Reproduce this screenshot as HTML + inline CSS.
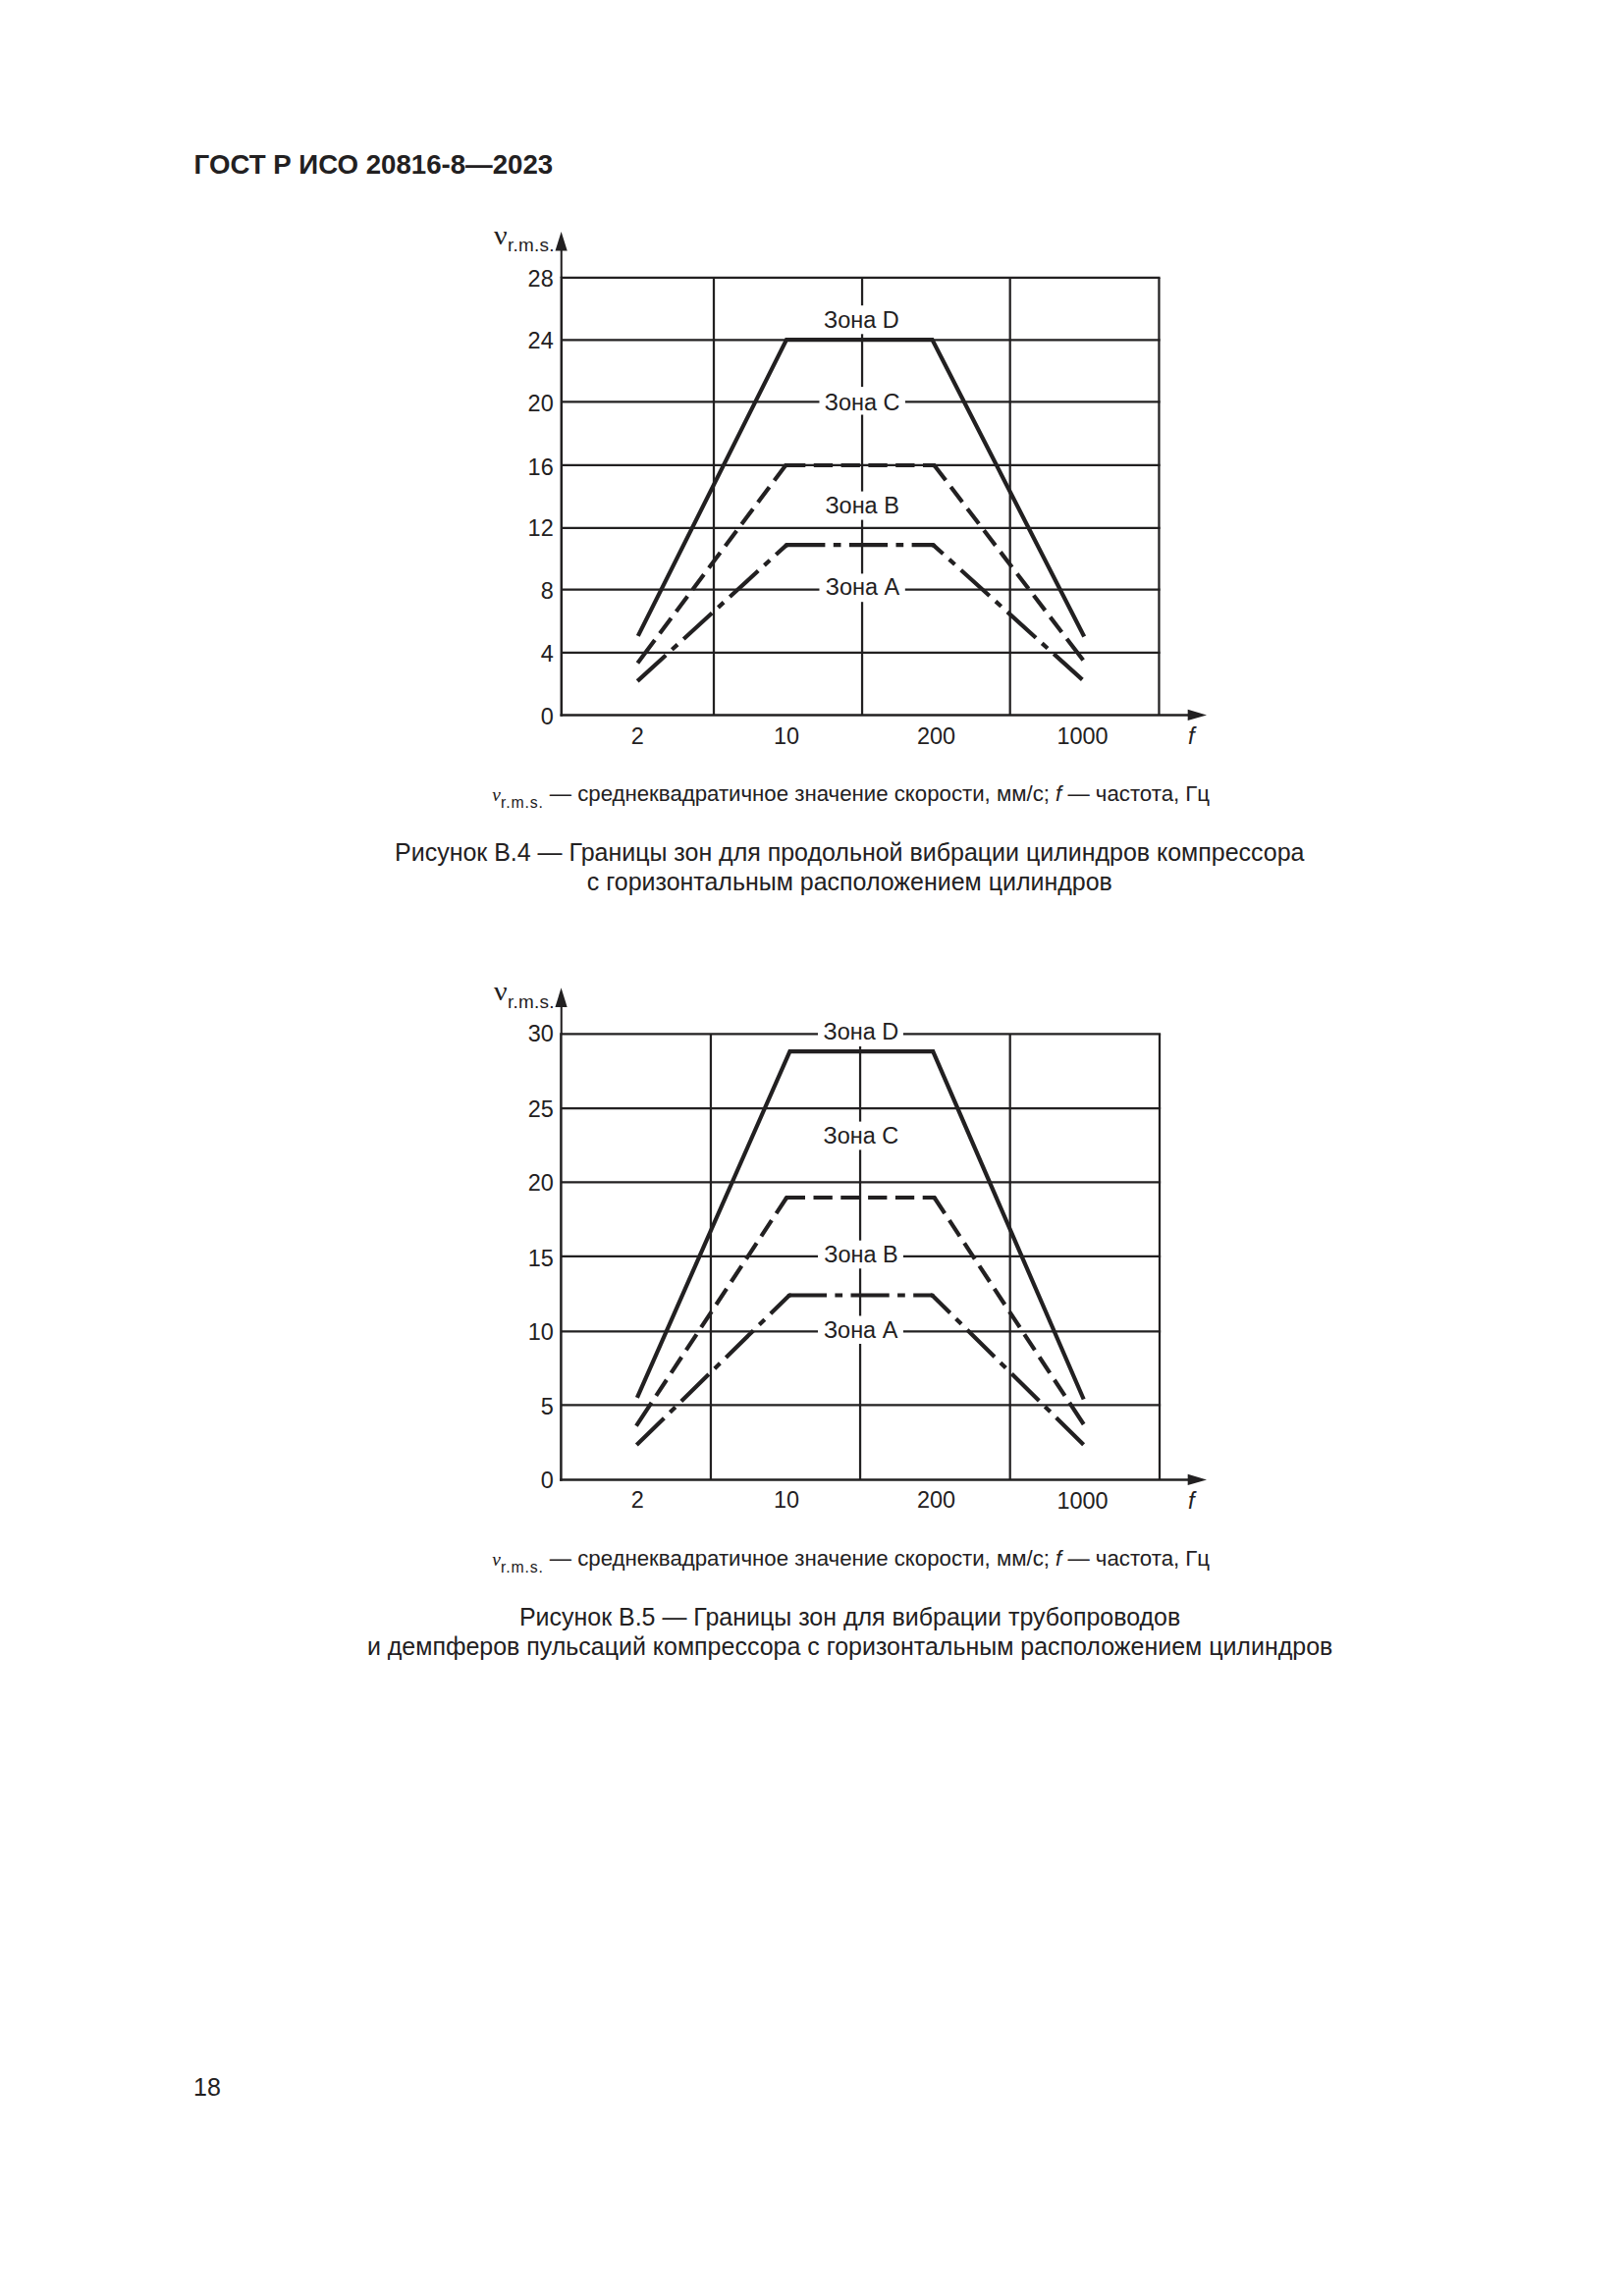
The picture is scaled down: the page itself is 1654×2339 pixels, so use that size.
<!DOCTYPE html>
<html lang="ru">
<head>
<meta charset="utf-8">
<title>ГОСТ Р ИСО 20816-8—2023</title>
<style>
html,body{margin:0;padding:0;background:#fff;}
body{width:1654px;height:2339px;position:relative;overflow:hidden;color:#222021;font-family:"Liberation Sans",Arial,sans-serif;}
.abs{position:absolute;white-space:nowrap;line-height:1;}
.hdr{left:197.6px;top:154.1px;font-size:27.65px;font-weight:bold;}
.cap{font-size:22.22px;}
.cap i.v{font-family:"Liberation Serif","Times New Roman",serif;font-style:italic;font-size:19.4px;}
.cap sub{font-size:15.8px;letter-spacing:0.85px;vertical-align:baseline;position:relative;top:7px;line-height:0;}
.ttl{left:198px;width:1336px;text-align:center;font-size:24.98px;line-height:30.1px;white-space:normal;}
.pn{left:197px;font-size:25px;}
svg{position:absolute;left:0;top:0;}
</style>
</head>
<body>
<div class="abs hdr">ГОСТ Р ИСО 20816-8—2023</div>
<svg width="1654" height="2339" viewBox="0 0 1654 2339">
<g stroke="#222021" stroke-width="2.25" fill="none">
<line x1="571.8" y1="282.95" x2="1181.58" y2="282.95"/>
<line x1="571.8" y1="346.25" x2="1181.58" y2="346.25"/>
<line x1="571.8" y1="409.45" x2="1181.58" y2="409.45"/>
<line x1="571.8" y1="473.95" x2="1181.58" y2="473.95"/>
<line x1="571.8" y1="537.75" x2="1181.58" y2="537.75"/>
<line x1="571.8" y1="600.65" x2="1181.58" y2="600.65"/>
<line x1="571.8" y1="664.95" x2="1181.58" y2="664.95"/>
<line x1="727" y1="282.95" x2="727" y2="728.4"/>
<line x1="878.05" y1="282.95" x2="878.05" y2="728.4"/>
<line x1="1028.7" y1="282.95" x2="1028.7" y2="728.4"/>
<line x1="1180.45" y1="282.95" x2="1180.45" y2="728.4"/>
</g>
<g stroke="#222021" fill="none">
<line x1="571.75" y1="253.6" x2="571.75" y2="282.95" stroke-width="2.05"/>
<line x1="571.8" y1="281.82" x2="571.8" y2="729.65" stroke-width="2.5"/>
<line x1="570.55" y1="728.4" x2="1211.7" y2="728.4" stroke-width="2.5"/>
</g>
<polygon fill="#222021" points="571.65,235.9 577.75,255.6 565.55,255.6"/>
<polygon fill="#222021" points="1229,728.4 1209.7,722.8 1209.7,734"/>
<rect x="834" y="311.2" width="88" height="29.1" fill="#fff"/>
<rect x="834.5" y="394.1" width="87.4" height="28.4" fill="#fff"/>
<rect x="834" y="500.6" width="88" height="29" fill="#fff"/>
<rect x="834.5" y="584.4" width="87.3" height="28.8" fill="#fff"/>
<g stroke="#222021" fill="none" stroke-linecap="butt" stroke-width="4.2" stroke-linejoin="miter">
<polyline points="649.8,647.9 801,346.05 949.5,346.05 1104.2,648.5"/>
<polyline points="649.4,675.4 800.2,474" stroke-dasharray="29.2 8.5 19.3 8.5 19.3 8.5 19.3 8.5 19.3 8.5 19.3 8.5 19.3 8.5 19.3 8.5 19.3 8.5"/>
<polyline points="800.2,474 951.5,474" stroke-dasharray="20.1 8.5 19.3 8.5 19.3 8.5 19.3 8.5 19.3 8.5 19.3 8.5"/>
<polyline points="1103.2,672.6 951.5,474" stroke-dasharray="27.51 8.5 19.3 8.5 19.3 8.5 19.3 8.5 19.3 8.5 19.3 8.5 19.3 8.5 19.3 8.5 19.3 8.5"/>
<polyline points="799.3,475.2 800.2,474 801.7,474"/>
<polyline points="950,474 951.5,474 952.41,475.19"/>
<polyline points="649.2,693.9 801.2,555.1" stroke-dasharray="39.2 8.4 7.7 8.4 39.2 8.4 7.7 8.4 39.2 8.4 7.7 8.4 39.2 8.4"/>
<polyline points="801.2,555.1 950.4,555.1" stroke-dasharray="39.2 8.4 7.7 8.4 39.2 8.4 7.7 8.4 39.2 8.4"/>
<polyline points="1102.3,692.4 950.4,555.1" stroke-dasharray="39.2 8.4 7.7 8.4 39.2 8.4 7.7 8.4 39.2 8.4 7.7 8.4 39.2 8.4"/>
<polyline points="800.09,556.11 801.2,555.1 802.7,555.1"/>
<polyline points="948.9,555.1 950.4,555.1 951.51,556.11"/>
</g>
<g fill="#222021" font-family="'Liberation Sans', Arial, sans-serif" font-size="23.9">
<text transform="translate(563.7 291.75) scale(0.982 1)" text-anchor="end">28</text>
<text transform="translate(563.7 354.65) scale(0.982 1)" text-anchor="end">24</text>
<text transform="translate(563.7 418.55) scale(0.982 1)" text-anchor="end">20</text>
<text transform="translate(563.7 483.55) scale(0.982 1)" text-anchor="end">16</text>
<text transform="translate(563.7 545.65) scale(0.982 1)" text-anchor="end">12</text>
<text transform="translate(563.7 609.55) scale(0.982 1)" text-anchor="end">8</text>
<text transform="translate(563.7 673.95) scale(0.982 1)" text-anchor="end">4</text>
<text transform="translate(563.7 737.5) scale(0.982 1)" text-anchor="end">0</text>
<text transform="translate(649.3 757.7) scale(0.982 1)" text-anchor="middle">2</text>
<text transform="translate(801.1 757.7) scale(0.982 1)" text-anchor="middle">10</text>
<text transform="translate(953.5 757.7) scale(0.982 1)" text-anchor="middle">200</text>
<text transform="translate(1102.5 757.7) scale(0.982 1)" text-anchor="middle">1000</text>
<text transform="translate(877.3 334.1) scale(0.982 1)" text-anchor="middle">Зона D</text>
<text transform="translate(878.1 417.85) scale(0.982 1)" text-anchor="middle">Зона C</text>
<text transform="translate(878.1 523.35) scale(0.982 1)" text-anchor="middle">Зона B</text>
<text transform="translate(878.55 606.15) scale(0.982 1)" text-anchor="middle">Зона A</text>
<text x="1210" y="757.7" font-style="italic">f</text>
<text transform="translate(502.9 248.5) scale(1.1 1)" font-family="'Liberation Serif', 'Times New Roman', serif" font-size="27.5">ν</text>
<text x="516.9" y="255.8" font-size="18.9" letter-spacing="0.3">r.m.s.</text>
</g>
<g stroke="#222021" stroke-width="2.25" fill="none">
<line x1="571.4" y1="1053.3" x2="1182.12" y2="1053.3"/>
<line x1="571.4" y1="1129.05" x2="1182.12" y2="1129.05"/>
<line x1="571.4" y1="1204.3" x2="1182.12" y2="1204.3"/>
<line x1="571.4" y1="1279.75" x2="1182.12" y2="1279.75"/>
<line x1="571.4" y1="1356.25" x2="1182.12" y2="1356.25"/>
<line x1="571.4" y1="1431.4" x2="1182.12" y2="1431.4"/>
<line x1="723.95" y1="1053.3" x2="723.95" y2="1507.4"/>
<line x1="876.05" y1="1053.3" x2="876.05" y2="1507.4"/>
<line x1="1028.7" y1="1053.3" x2="1028.7" y2="1507.4"/>
<line x1="1181" y1="1053.3" x2="1181" y2="1507.4"/>
</g>
<g stroke="#222021" fill="none">
<line x1="571.75" y1="1024" x2="571.75" y2="1053.3" stroke-width="2.05"/>
<line x1="571.4" y1="1052.17" x2="571.4" y2="1508.65" stroke-width="2.5"/>
<line x1="570.15" y1="1507.4" x2="1211.7" y2="1507.4" stroke-width="2.5"/>
</g>
<polygon fill="#222021" points="571.55,1006.3 577.65,1026 565.45,1026"/>
<polygon fill="#222021" points="1229,1507.4 1209.7,1501.8 1209.7,1513"/>
<rect x="833" y="1038" width="86.9" height="28" fill="#fff"/>
<rect x="833" y="1142.6" width="86.9" height="28.8" fill="#fff"/>
<rect x="833" y="1263.7" width="86.9" height="28.6" fill="#fff"/>
<rect x="833" y="1340.5" width="86.9" height="28.5" fill="#fff"/>
<g stroke="#222021" fill="none" stroke-linecap="butt" stroke-width="4.2" stroke-linejoin="miter">
<polyline points="648.9,1423.9 804.4,1071.2 950.25,1071.2 1103.7,1425.5"/>
<polyline points="648,1452.6 801.2,1220" stroke-dasharray="28.32 8.5 19.3 8.5 19.3 8.5 19.3 8.5 19.3 8.5 19.3 8.5 19.3 8.5 19.3 8.5 19.3 8.5 19.3 8.5"/>
<polyline points="801.2,1220 951.6,1220" stroke-dasharray="18.8 8.5 19.3 8.5 19.3 8.5 19.3 8.5 19.3 8.5 19.3 8.5"/>
<polyline points="1103.7,1451 951.6,1220" stroke-dasharray="26.38 8.5 19.3 8.5 19.3 8.5 19.3 8.5 19.3 8.5 19.3 8.5 19.3 8.5 19.3 8.5 19.3 8.5 19.3 8.5"/>
<polyline points="800.37,1221.25 801.2,1220 802.7,1220"/>
<polyline points="950.1,1220 951.6,1220 952.42,1221.25"/>
<polyline points="648.35,1472.1 804,1319.5" stroke-dasharray="39.2 8.4 7.7 8.4 39.2 8.4 7.7 8.4 39.2 8.4 7.7 8.4 39.2 8.4"/>
<polyline points="804,1319.5 949.4,1319.5" stroke-dasharray="38 8.4 7.7 8.4 39.2 8.4 7.7 8.4 39.2 8.4"/>
<polyline points="1103.6,1471.75 949.4,1319.5" stroke-dasharray="39.2 8.4 7.7 8.4 39.2 8.4 7.7 8.4 39.2 8.4 7.7 8.4 39.2 8.4"/>
<polyline points="802.93,1320.55 804,1319.5 805.5,1319.5"/>
<polyline points="947.9,1319.5 949.4,1319.5 950.47,1320.55"/>
</g>
<g fill="#222021" font-family="'Liberation Sans', Arial, sans-serif" font-size="23.9">
<text transform="translate(563.9 1060.9) scale(0.982 1)" text-anchor="end">30</text>
<text transform="translate(563.9 1138.25) scale(0.982 1)" text-anchor="end">25</text>
<text transform="translate(563.9 1213.3) scale(0.982 1)" text-anchor="end">20</text>
<text transform="translate(563.9 1289.85) scale(0.982 1)" text-anchor="end">15</text>
<text transform="translate(563.9 1364.65) scale(0.982 1)" text-anchor="end">10</text>
<text transform="translate(563.9 1440.7) scale(0.982 1)" text-anchor="end">5</text>
<text transform="translate(563.9 1516.25) scale(0.982 1)" text-anchor="end">0</text>
<text transform="translate(649.3 1536.3) scale(0.982 1)" text-anchor="middle">2</text>
<text transform="translate(801.1 1536.3) scale(0.982 1)" text-anchor="middle">10</text>
<text transform="translate(953.5 1536.3) scale(0.982 1)" text-anchor="middle">200</text>
<text transform="translate(1102.5 1536.7) scale(0.982 1)" text-anchor="middle">1000</text>
<text transform="translate(876.9 1058.8) scale(0.982 1)" text-anchor="middle">Зона D</text>
<text transform="translate(876.8 1164.8) scale(0.982 1)" text-anchor="middle">Зона C</text>
<text transform="translate(876.9 1285.8) scale(0.982 1)" text-anchor="middle">Зона B</text>
<text transform="translate(876.6 1362.6) scale(0.982 1)" text-anchor="middle">Зона A</text>
<text x="1210" y="1536.7" font-style="italic">f</text>
<text transform="translate(502.9 1018.9) scale(1.1 1)" font-family="'Liberation Serif', 'Times New Roman', serif" font-size="27.5">ν</text>
<text x="516.9" y="1026.5" font-size="18.9" letter-spacing="0.3">r.m.s.</text>
</g>
</svg>
<div class="abs cap" id="cap1" style="left:501.3px;top:797.8px;"><i class="v">v</i><sub>r.m.s.</sub> — среднеквадратичное значение скорости, мм/с; <i>f</i> — частота, Гц</div>
<div class="abs ttl" id="ttl1" style="top:853.3px;left:197.3px;">Рисунок В.4 — Границы зон для продольной вибрации цилиндров компрессора<br>с горизонтальным расположением цилиндров</div>
<div class="abs cap" id="cap2" style="left:501.3px;top:1576.7px;"><i class="v">v</i><sub>r.m.s.</sub> — среднеквадратичное значение скорости, мм/с; <i>f</i> — частота, Гц</div>
<div class="abs ttl" id="ttl2" style="top:1632.2px;left:197.6px;">Рисунок В.5 — Границы зон для вибрации трубопроводов<br>и демпферов пульсаций компрессора с горизонтальным расположением цилиндров</div>
<div class="abs pn" style="top:2114.4px;">18</div>
</body>
</html>
